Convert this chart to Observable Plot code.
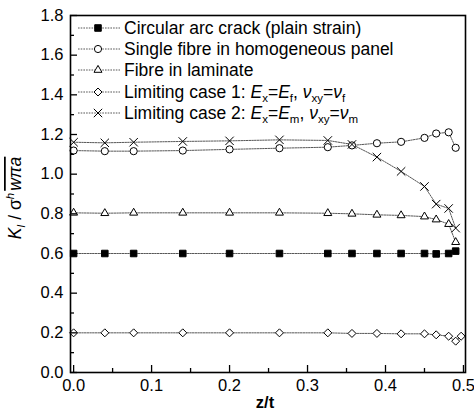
<!DOCTYPE html>
<html><head><meta charset="utf-8">
<script src="https://cdn.jsdelivr.net/npm/d3@7"></script>
<script src="https://cdn.jsdelivr.net/npm/@observablehq/plot@0.6"></script>
<style>
body{margin:0;background:#fff}
#chart{position:relative;width:474px;height:416px}
</style>
</head><body><div id="chart"></div>
<script>
// ---- data ----
const zt = [0.0, 0.04, 0.077, 0.14, 0.2, 0.264, 0.326, 0.357, 0.389, 0.42, 0.45, 0.465, 0.481, 0.49];
const ztCase1 = [0.0, 0.04, 0.077, 0.14, 0.2, 0.264, 0.326, 0.357, 0.389, 0.42, 0.45, 0.465, 0.481, 0.49, 0.497];
const circularArc = [0.6, 0.6, 0.6, 0.6, 0.6, 0.6, 0.6, 0.6, 0.6, 0.6, 0.6, 0.598, 0.6, 0.612];
const singleFibre = [1.119, 1.116, 1.116, 1.119, 1.125, 1.131, 1.136, 1.145, 1.156, 1.163, 1.183, 1.205, 1.211, 1.133];
const fibreLaminate = [0.805, 0.803, 0.805, 0.805, 0.805, 0.805, 0.803, 0.800, 0.795, 0.792, 0.786, 0.771, 0.748, 0.657];
const limitingCase1 = [0.2, 0.2, 0.2, 0.2, 0.2, 0.2, 0.2, 0.197, 0.197, 0.195, 0.195, 0.19, 0.183, 0.158, 0.183];
const limitingCase2 = [1.161, 1.158, 1.161, 1.165, 1.168, 1.173, 1.170, 1.150, 1.086, 1.014, 0.938, 0.849, 0.827, 0.728];
const seriesNames = ["Circular arc crack (plain strain)", "Single fibre in homogeneous panel", "Fibre in laminate", "Limiting case 1", "Limiting case 2"];
const xMajorTicks = [0, 0.1, 0.2, 0.3, 0.4, 0.5];
const xMinorTicks = [0.05, 0.15, 0.25, 0.35, 0.45];
const yMajorTicks = [0, 0.2, 0.4, 0.6, 0.8, 1.0, 1.2, 1.4, 1.6, 1.8];
const yMinorTicks = [0.1, 0.3, 0.5, 0.7, 0.9, 1.1, 1.3, 1.5, 1.7];
const xLabel = "z/t";

// ---- styles per series ----
const styles = [
  {symbol: "square", fill: "black", r: 3.7},
  {symbol: "circle", fill: "white", r: 3.6},
  {symbol: "triangle2", fill: "white", r: 3.8},
  {symbol: "diamond2", fill: "white", r: 3.6},
  {symbol: "times", fill: "none", r: 3.9}
];
const seriesX = [zt, zt, zt, ztCase1, zt];
const seriesY = [circularArc, singleFibre, fibreLaminate, limitingCase1, limitingCase2];
const series = seriesNames.map((name, i) => ({
  name, ...styles[i],
  rows: seriesY[i].map((v, j) => ({x: seriesX[i][j], y: v}))
}));

const FONT = "'Liberation Sans', Arial, Helvetica, sans-serif";
const marks = [];
series.forEach(s => {
  marks.push(Plot.line(s.rows, {x: "x", y: "y", stroke: "#444", strokeWidth: 0.9, strokeDasharray: "1.6,1.1"}));
});
series.forEach(s => {
  marks.push(Plot.dot(s.rows, {x: "x", y: "y", symbol: s.symbol, r: s.r, fill: s.fill, stroke: "black", strokeWidth: 1}));
});
marks.push(
  Plot.axisX(xMajorTicks, {tickSize: -7, tickPadding: 14, tickFormat: d3.format(".1f"), label: null, stroke: "black", strokeWidth: 1.3, fill: "black"}),
  Plot.axisX(xMinorTicks, {tickSize: -4, tickFormat: () => "", label: null, stroke: "black", strokeWidth: 1.3}),
  Plot.axisY(yMajorTicks, {tickSize: -7, tickPadding: 14, tickFormat: d3.format(".1f"), label: null, stroke: "black", strokeWidth: 1.3, fill: "black"}),
  Plot.axisY(yMinorTicks, {tickSize: -4, tickFormat: () => "", label: null, stroke: "black", strokeWidth: 1.3}),
  Plot.frame({stroke: "black", strokeWidth: 1.6})
);

const plot = Plot.plot({
  width: 474, height: 416,
  marginLeft: 70, marginRight: 9, marginTop: 15, marginBottom: 44,
  x: {domain: [-0.004, 0.5026]},
  y: {domain: [0, 1.8]},
  style: {fontFamily: FONT, fontSize: "16.5px", color: "black", background: "white"},
  marks
});
document.getElementById("chart").appendChild(plot);

// ---- labels & legend (text overlay in the same svg) ----
const svg = d3.select(plot);
svg.append("text").attr("x", 265).attr("y", 408).attr("text-anchor", "middle")
  .attr("font-family", FONT).attr("font-size", 16.5).attr("font-weight", "bold").text(xLabel);

const yl = svg.append("text").attr("transform", "translate(21,198) rotate(-90)")
  .attr("text-anchor", "middle").attr("font-family", FONT).attr("font-size", 17.5);
yl.append("tspan").attr("font-style", "italic").text("K");
yl.append("tspan").attr("font-style", "italic").attr("font-size", 11).attr("dy", 4).text("I");
yl.append("tspan").attr("dy", -4).text(" / σ");
yl.append("tspan").attr("font-style", "italic").attr("font-size", 11.5).attr("dy", -7).text("h");
yl.append("tspan").attr("font-style", "italic").attr("dy", 7).attr("dx", 2).style("text-decoration", "overline").text("wπa");

// legend
const legendRowsY = [28, 49, 70, 92, 113];
const legendLabels = [
  [{t: seriesNames[0]}],
  [{t: seriesNames[1]}],
  [{t: seriesNames[2]}],
  [{t: "Limiting case 1: "}, {t: "E", i: 1}, {t: "x", s: 1}, {t: "="}, {t: "E", i: 1}, {t: "f", s: 1}, {t: ", "}, {t: "ν", i: 1}, {t: "xy", s: 1}, {t: "="}, {t: "ν", i: 1}, {t: "f", s: 1}],
  [{t: "Limiting case 2: "}, {t: "E", i: 1}, {t: "x", s: 1}, {t: "="}, {t: "E", i: 1}, {t: "m", s: 1}, {t: ", "}, {t: "ν", i: 1}, {t: "xy", s: 1}, {t: "="}, {t: "ν", i: 1}, {t: "m", s: 1}]
];
const symMap = {square: d3.symbolSquare, circle: d3.symbolCircle, triangle2: d3.symbolTriangle2, diamond2: d3.symbolDiamond2, times: d3.symbolTimes};
const lg = svg.append("g").attr("text-anchor", "start");
series.forEach((s, i) => {
  const y = legendRowsY[i];
  lg.append("line").attr("x1", 78).attr("x2", 120).attr("y1", y).attr("y2", y)
    .attr("stroke", "#444").attr("stroke-width", 0.9).attr("stroke-dasharray", "1.6,1.1");
  if (s.symbol === "circle")
    lg.append("circle").attr("cx", 98).attr("cy", y).attr("r", s.r).attr("fill", "white").attr("stroke", "black");
  else
    lg.append("path").attr("d", d3.symbol(symMap[s.symbol], Math.PI * s.r * s.r)())
      .attr("transform", `translate(98,${y})`).attr("fill", s.fill).attr("stroke", "black");
  const t = lg.append("text").attr("x", 124).attr("y", y + 6).attr("text-anchor", "start")
    .attr("font-family", FONT).attr("font-size", 17.5);
  let shifted = false;
  legendLabels[i].forEach(seg => {
    const sp = t.append("tspan").text(seg.t);
    if (seg.i) sp.attr("font-style", "italic");
    if (seg.s && !shifted) { sp.attr("dy", 4).attr("font-size", 11.5); shifted = true; }
    else if (seg.s) sp.attr("font-size", 11.5);
    else if (shifted) { sp.attr("dy", -4); shifted = false; }
  });
});
</script>
</body></html>
